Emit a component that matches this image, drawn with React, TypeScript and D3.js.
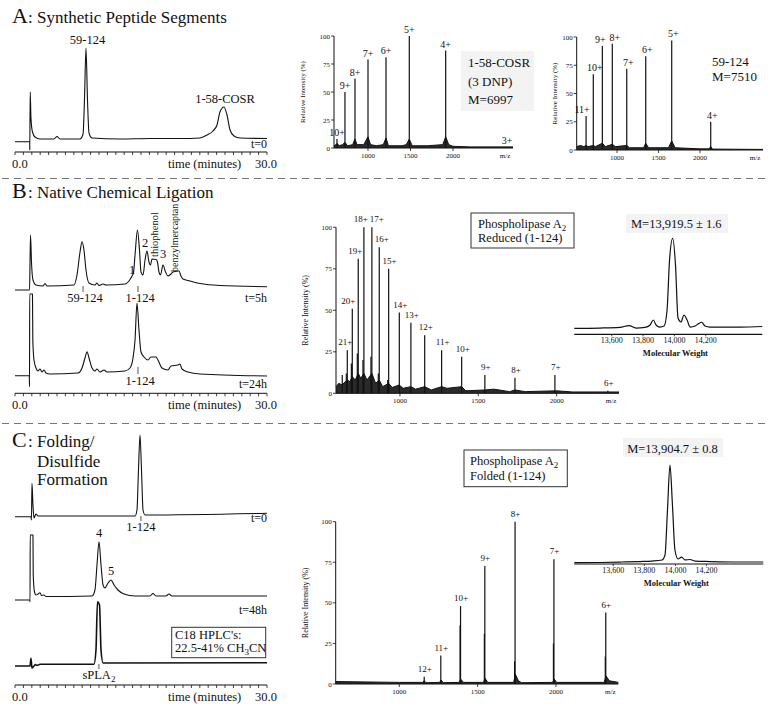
import React from 'react';
import * as d3 from 'd3';

const SERIF = '"Liberation Serif", "Times New Roman", Times, serif';
const INK = '#111';

// ================= HPLC chromatograms (time in minutes, detector signal above baseline) =================
const chromA_t = [0, 1.75, 1.76, 1.81, 1.9, 2.08, 2.38, 2.98, 4.64, 5.0, 5.36, 7.74, 8.1, 8.27, 8.45, 8.63, 8.81, 9.17, 12.5, 16.07, 19.64, 22.0, 22.86, 23.57, 24.05, 24.4, 24.88, 25.24, 25.6, 26.07, 26.79, 30];
const chromA_v = [-1.7, -1.7, -10, 48, 22, 8, 3, 1, 1, 3.5, 1, 1, 6, 40, 92, 40, 7, 2, 1, 1.5, 1.5, 2, 5, 9, 15, 28, 33, 25, 10, 4, 2, 1.5];

const chromB5_t = [0, 1.73, 1.79, 1.85, 1.96, 2.14, 2.5, 3.33, 3.57, 3.81, 7.02, 7.38, 7.74, 7.98, 8.21, 8.45, 8.81, 9.52, 9.76, 10.0, 10.48, 10.83, 13.1, 13.57, 13.93, 14.1, 14.29, 14.58, 14.82, 15.0, 15.24, 15.48, 15.71, 15.95, 16.13, 16.31, 16.79, 16.96, 17.14, 17.32, 17.62, 17.92, 18.21, 18.57, 18.81, 19.52, 19.76, 20.0, 20.83, 22.02, 24.4, 30];
const chromB5_v = [-3.3, -3.3, 25, 51.7, 25, 6.7, 1.7, 0.7, 3.2, 0.7, 1.7, 11.7, 34.7, 45, 36.7, 16.7, 3.7, 1.7, 3.7, 1.2, 2.7, 1.7, 2.7, 5.7, 10.7, 13.7, 31.7, 56.7, 36.7, 14.7, 11.7, 26.7, 35.7, 24.7, 21.7, 27.7, 27.2, 24.7, 14.7, 11.7, 21.7, 14.7, 10.7, 12.7, 14.7, 15.7, 10.7, 7.7, 5.7, 3.2, 1.2, 0];

const chromB24_t = [0, 1.7, 1.73, 1.75, 2.08, 2.12, 2.26, 2.5, 2.74, 2.98, 3.21, 3.45, 3.69, 4.17, 7.5, 7.98, 8.33, 8.57, 8.81, 9.17, 9.52, 9.76, 10.12, 10.6, 10.95, 13.1, 13.69, 14.05, 14.29, 14.52, 14.76, 15.0, 15.36, 15.83, 16.19, 16.79, 17.02, 17.5, 18.21, 18.57, 19.4, 19.64, 19.88, 20.6, 22.02, 30];
const chromB24_v = [0.3, 0.3, -10.7, 82, 82, 36, 16, 8, 5, 7, 4, 6, 3, 2, 3, 8, 18, 24.3, 18, 8, 5, 7, 4, 6, 4, 5, 8, 18, 36, 72.7, 46, 24, 19, 16, 19, 19, 16, 8, 6, 10, 11, 12, 7, 4, 2, 0];

const chromC0_t = [0, 1.9, 1.96, 2.02, 2.14, 2.26, 2.5, 2.74, 14.29, 14.52, 14.7, 14.88, 15.06, 15.24, 15.48, 30];
const chromC0_v = [-0.7, -0.7, -4, 32.7, 11, -2, 2, 0, 0, 6, 46, 81, 46, 6, 1, 2.7];

const chromC48_t = [0, 1.76, 1.79, 1.81, 2.14, 2.17, 2.32, 2.5, 2.74, 2.98, 3.15, 3.45, 3.69, 9.17, 9.52, 9.76, 10.0, 10.24, 10.48, 10.71, 11.07, 11.43, 11.79, 12.26, 12.98, 14.29, 16.07, 16.43, 16.79, 17.98, 18.33, 18.69, 30];
const chromC48_v = [-3.3, -3.3, -5, 61.7, 61.7, 21.7, 4.7, 1.7, 2.7, 4, 1.2, 1.7, 0.2, 0.7, 6.7, 31.7, 55, 31.7, 11.7, 8.7, 13.7, 16.7, 11.7, 6.7, 2.7, 0.7, 0.7, 3.2, 0.7, 0.7, 2.7, 0.7, 0.7];

const chromCs_t = [0, 1.79, 1.9, 2.02, 2.26, 2.44, 2.62, 2.98, 9.4, 9.64, 9.82, 10.06, 10.24, 10.48, 30];
const chromCs_v = [-1.7, -1.7, 6, -3.7, -1.7, -0.2, -1.2, 0, 0, 14.3, 62.6, 59.3, 14.3, 1.3, 1.6];

// ================= ES-MS spectra (m/z, relative intensity %) =================
const msA1Mz = [635, 729, 847, 1000, 1212, 1486, 1914, 2635];
const msA1Int = [8, 50, 62, 79, 81, 100, 87, 1];
const msA1Labels = ['10+', '9+', '8+', '7+', '6+', '5+', '4+', '3+'];
const msA1NoiseMz = [600, 620, 640, 660, 700, 729, 760, 820, 847, 870, 950, 1000, 1030, 1100, 1180, 1212, 1240, 1400, 1450, 1486, 1520, 1700, 1880, 1914, 1950, 2000, 2200, 2706];
const msA1NoiseInt = [2, 3, 4, 2, 3, 5, 2, 3, 8, 3, 3, 10, 3, 2, 3, 9, 2, 2, 3, 8, 2, 2, 3, 10, 3, 1.5, 1, 1];

const msA2Mz = [627, 714, 823, 943, 1117, 1346, 1659, 2129];
const msA2Int = [30, 67, 92, 94, 72, 83, 97, 25];
const msA2Labels = ['11+', '10+', '9+', '8+', '7+', '6+', '5+', '4+'];
const msA2NoiseMz = [514, 560, 600, 627, 650, 714, 740, 823, 860, 943, 980, 1117, 1150, 1320, 1346, 1380, 1620, 1659, 1700, 2000, 2110, 2129, 2150, 2759];
const msA2NoiseInt = [3, 4, 3, 4, 3, 4, 3, 6, 3, 5, 3, 4, 2, 2, 6, 2, 2, 8, 2, 1, 1, 3, 0.8, 0.5];

const msBMz = [632, 664, 696, 734, 770, 821, 868, 928, 996, 1070, 1158, 1266, 1394, 1542, 1734, 1989, 2327];
const msBInt = [11, 26, 51, 81, 100, 100, 88, 75, 48.6, 42.5, 35, 26, 22, 11, 9.4, 11, 1.5];
const msBLabels = ['', '21+', '20+', '19+', '18+', '17+', '16+', '15+', '14+', '13+', '12+', '11+', '10+', '9+', '8+', '7+', '6+'];
const msBSubMz = [658, 690, 728, 764, 815, 862, 922];
const msBSubInt = [12, 18, 24, 20, 22, 12, 8];
const msBNoiseMz = [592, 610, 632, 650, 664, 680, 696, 715, 734, 750, 770, 790, 821, 845, 868, 890, 928, 950, 996, 1020, 1070, 1100, 1158, 1200, 1266, 1300, 1394, 1420, 1542, 1600, 1700, 1734, 1800, 2000, 2100, 2398];
const msBNoiseInt = [4, 6, 5, 7, 8, 7, 10, 8, 12, 9, 12, 8, 12, 6, 8, 4, 6, 3.5, 5, 3, 4, 2.5, 4, 2, 4, 3, 4, 1.5, 2, 2.5, 1, 2, 1, 1.5, 0.8, 0.8];

const msCMz = [1159, 1265, 1391, 1546, 1739, 1987, 2318];
const msCInt = [4.5, 17.5, 48, 72.7, 100, 76.8, 44];
const msCLabels = ['12+', '11+', '10+', '9+', '8+', '7+', '6+'];
const msCSubMz = [1388, 1543, 1736, 1984, 2315];
const msCSubInt = [36, 31, 14, 25, 17];
const msCNoiseMz = [594, 1000, 1150, 1159, 1170, 1258, 1266, 1280, 1383, 1392, 1410, 1538, 1547, 1565, 1730, 1741, 1760, 1780, 1978, 1989, 2005, 2308, 2320, 2340, 2398];
const msCNoiseInt = [1.5, 1, 1, 2, 0.8, 1, 2.5, 0.8, 1, 3, 1, 1, 3.5, 1, 1, 6, 2, 0.8, 1, 3, 1, 1, 5, 2, 1];

// ================= Deconvoluted mass spectra (molecular weight, relative intensity %) =================
const invBMw = [13361, 13525, 13653, 13710, 13755, 13812, 13845, 13865, 13883, 13908, 13934, 13953, 13969, 13989, 14007, 14023, 14042, 14061, 14081, 14100, 14132, 14151, 14174, 14195, 14227, 14419, 14561];
const invBInt = [0, 0.3, 1, 3, 0.3, 1, 3.7, 9.2, 3.7, 1.4, 2.6, 20, 76, 100, 70, 11.4, 7, 14.8, 9.2, 1.4, 2.6, 4.8, 6.7, 2.6, 1.4, 1.4, 2];
const invCMw = [13349, 13514, 13656, 13772, 13849, 13914, 13933, 13949, 13965, 13981, 13997, 14017, 14040, 14062, 14094, 14126, 14222, 14415, 14566];
const invCInt = [0, 0.2, 0.7, 1.2, 1.7, 2.8, 7.9, 54, 100, 59, 13, 3.8, 5.8, 2.8, 3.3, 1.7, 1.2, 0.7, 0.7];

// ================= Tick labels =================
const intensityTicks = [0, 25, 50, 75, 100];
const mzTicks = [1000, 1500, 2000];
const mwTicks = [13600, 13800, 14000, 14200];
const mwTickLabels = ['13,600', '13,800', '14,000', '14,200'];

// ================= Components =================
const tScale = d3.scaleLinear().domain([0, 30]).range([15, 267]);

function Chrom({ t, v, base, width = 1.1 }: { t: number[]; v: number[]; base: number; width?: number }) {
  const y = d3.scaleLinear().domain([0, 100]).range([base, base - 100]);
  const line = d3.line<number>().x((_, i) => tScale(t[i])).y(d => y(d)).curve(d3.curveMonotoneX);
  return <path d={line(v) || ''} fill="none" stroke={INK} strokeWidth={width} strokeLinejoin="round" />;
}

function TimeAxis({ y }: { y: number }) {
  return (
    <g>
      <line x1={tScale(0)} x2={tScale(30)} y1={y} y2={y} stroke={INK} strokeWidth={1} />
      {tScale.ticks(30).map(t => (
        <line key={t} x1={tScale(t)} x2={tScale(t)} y1={y} y2={y + 3} stroke={INK} strokeWidth={0.8} />
      ))}
      <text x={12} y={y + 15.5} fontSize={12.5}>0.0</text>
      <text x={168} y={y + 15.5} fontSize={12.5}>time (minutes)</text>
      <text x={255} y={y + 15.5} fontSize={12.5}>30.0</text>
    </g>
  );
}

function Marker({ t, y1, y2 }: { t: number; y1: number; y2: number }) {
  return <line x1={tScale(t)} x2={tScale(t)} y1={y1} y2={y2} stroke="#555" strokeWidth={1} />;
}

type SpecProps = {
  x0: number; x1: number; y0: number; y100: number; domain: [number, number];
  mz: number[]; inten: number[]; labels: string[];
  noiseMz: number[]; noiseInt: number[];
  subMz?: number[]; subInt?: number[];
  yLabelX: number; yLabelSize: number; peakFont: number; labelGap: number;
  nudge?: Record<string, number>; defaultNudge?: number;
};

function Spectrum(p: SpecProps) {
  const x = d3.scaleLinear().domain(p.domain).range([p.x0, p.x1]);
  const y = d3.scaleLinear().domain([0, 100]).range([p.y0, p.y100]);
  const area = d3.area<number>().x((_, i) => x(p.noiseMz[i])).y0(p.y0).y1(d => y(d));
  const line = d3.line<number>().x((_, i) => x(p.noiseMz[i])).y(d => y(d));
  const nd = p.defaultNudge ?? 0;
  return (
    <g>
      <path d={area(p.noiseInt) || ''} fill="#2a2a2a" />
      <path d={line(p.noiseInt) || ''} fill="none" stroke={INK} strokeWidth={1} />
      {p.subMz && p.subMz.map((m, i) => (
        <line key={'s' + i} x1={x(m)} x2={x(m)} y1={p.y0} y2={y(p.subInt![i])} stroke={INK} strokeWidth={1.2} />
      ))}
      {p.mz.map((m, i) => (
        <line key={'p' + i} x1={x(m)} x2={x(m)} y1={p.y0} y2={y(p.inten[i])} stroke={INK} strokeWidth={1.2} />
      ))}
      {p.labels.map((l, i) => l ? (
        <text key={'l' + i} x={x(p.mz[i]) + (p.nudge && p.nudge[l] !== undefined ? p.nudge[l] : nd)}
          y={y(p.inten[i]) - p.labelGap} fontSize={p.peakFont} textAnchor="middle">{l}</text>
      ) : null)}
      <line x1={p.x0} x2={p.x1} y1={p.y0} y2={p.y0} stroke={INK} strokeWidth={1} />
      <line x1={p.x0} x2={p.x0} y1={p.y0} y2={p.y100} stroke={INK} strokeWidth={1} />
      {intensityTicks.map(v => (
        <g key={'yt' + v}>
          <line x1={p.x0 - 3} x2={p.x0} y1={y(v)} y2={y(v)} stroke={INK} strokeWidth={0.8} />
          <text x={p.x0 - 4} y={y(v) + 2.5} fontSize={7} textAnchor="end">{v}</text>
        </g>
      ))}
      {mzTicks.map(v => (
        <g key={'xt' + v}>
          <line x1={x(v)} x2={x(v)} y1={p.y0} y2={p.y0 + 3} stroke={INK} strokeWidth={0.8} />
          <text x={x(v)} y={p.y0 + 10} fontSize={7} textAnchor="middle">{v}</text>
        </g>
      ))}
      <text x={p.x1 - 8} y={p.y0 + 10} fontSize={7} textAnchor="middle">m/z</text>
      <text transform={`translate(${p.yLabelX},${(p.y0 + p.y100) / 2}) rotate(-90)`} fontSize={p.yLabelSize} textAnchor="middle">
        Relative Intensity (%)
      </text>
    </g>
  );
}

type InsetProps = {
  x0: number; x1: number; axisY: number; baseY: number; topY: number; domain: [number, number];
  mw: number[]; inten: number[];
};

function Inset(p: InsetProps) {
  const x = d3.scaleLinear().domain(p.domain).range([p.x0, p.x1]);
  const y = d3.scaleLinear().domain([0, 100]).range([p.baseY, p.topY]);
  const line = d3.line<number>().x((_, i) => x(p.mw[i])).y(d => y(d)).curve(d3.curveMonotoneX);
  return (
    <g>
      <path d={line(p.inten) || ''} fill="none" stroke={INK} strokeWidth={1.2} />
      <line x1={p.x0} x2={p.x1} y1={p.axisY} y2={p.axisY} stroke={INK} strokeWidth={1.2} />
      {mwTicks.map((v, i) => (
        <g key={v}>
          <line x1={x(v)} x2={x(v)} y1={p.axisY} y2={p.axisY + 2} stroke={INK} strokeWidth={0.8} />
          <text x={x(v)} y={p.axisY + 9} fontSize={8} textAnchor="middle">{mwTickLabels[i]}</text>
        </g>
      ))}
      <text x={x(14000) + 1} y={p.axisY + 22} fontSize={8.5} textAnchor="middle" fontWeight={600}>Molecular Weight</text>
    </g>
  );
}

export default function App() {
  return (
    <svg width={775} height={711} viewBox="0 0 775 711"
      style={{ position: 'absolute', left: 0, top: 0, display: 'block', background: '#fff' }}
      fontFamily={SERIF} fill={INK}>
      <rect x={0} y={0} width={775} height={711} fill="#fff" />

      {/* separators */}
      <line x1={2} x2={765} y1={178.5} y2={178.5} stroke="#777" strokeWidth={1} strokeDasharray="7 5" />
      <line x1={2} x2={765} y1={423.5} y2={423.5} stroke="#777" strokeWidth={1} strokeDasharray="7 5" />

      {/* ================= Panel A ================= */}
      <text x={12} y={23} fontSize={22}>A</text>
      <text x={28} y={23} fontSize={17}>: Synthetic Peptide Segments</text>

      <Chrom t={chromA_t} v={chromA_v} base={140} />
      <TimeAxis y={152} />
      <text x={tScale(8.63)} y={44} fontSize={12.5} textAnchor="middle">59-124</text>
      <text x={tScale(25.0)} y={103} fontSize={12.5} textAnchor="middle">1-58-COSR</text>
      <text x={267} y={148} fontSize={12} textAnchor="end">t=0</text>

      <rect x={461} y={51} width={73} height={60} fill="#f3f3f3" />
      <Spectrum x0={334} x1={513} y0={148} y100={36} domain={[600, 2706]}
        mz={msA1Mz} inten={msA1Int} labels={msA1Labels}
        noiseMz={msA1NoiseMz} noiseInt={msA1NoiseInt}
        yLabelX={305} yLabelSize={7} peakFont={10} labelGap={3} />
      <text x={468} y={67} fontSize={13}>1-58-COSR</text>
      <text x={468} y={86} fontSize={13}>(3 DNP)</text>
      <text x={468} y={104} fontSize={13}>M=6997</text>

      <Spectrum x0={576.7} x1={763} y0={150} y100={37} domain={[514, 2759]}
        mz={msA2Mz} inten={msA2Int} labels={msA2Labels}
        noiseMz={msA2NoiseMz} noiseInt={msA2NoiseInt}
        yLabelX={557} yLabelSize={7} peakFont={10} labelGap={3}
        nudge={{ '11+': -4, '9+': -2, '8+': 2.5 }} defaultNudge={1.5} />
      <text x={712} y={66} fontSize={13}>59-124</text>
      <text x={712} y={81} fontSize={13}>M=7510</text>

      {/* ================= Panel B ================= */}
      <text x={12} y={198} fontSize={22}>B</text>
      <text x={28} y={198} fontSize={17}>: Native Chemical Ligation</text>

      <Chrom t={chromB5_t} v={chromB5_v} base={286.7} />
      <Marker t={8.1} y1={286} y2={292} />
      <Marker t={14.64} y1={286} y2={292} />
      <text x={tScale(8.33)} y={302} fontSize={12.5} textAnchor="middle">59-124</text>
      <text x={tScale(14.9)} y={302} fontSize={12.5} textAnchor="middle">1-124</text>
      <text x={tScale(13.93)} y={274} fontSize={12.5} textAnchor="middle">1</text>
      <text x={tScale(15.48)} y={246.7} fontSize={12.5} textAnchor="middle">2</text>
      <text x={tScale(17.62)} y={258} fontSize={12.5} textAnchor="middle">3</text>
      <text transform={`translate(${158},${257}) rotate(-90)`} fontSize={10.5}>thiophenol</text>
      <text transform={`translate(${178},${272}) rotate(-90)`} fontSize={10}>benzylmercaptan</text>
      <text x={267} y={301.7} fontSize={12} textAnchor="end">t=5h</text>

      <Chrom t={chromB24_t} v={chromB24_v} base={376} />
      <Marker t={14.64} y1={367} y2={374} />
      <text x={tScale(14.9)} y={385} fontSize={12.5} textAnchor="middle">1-124</text>
      <text x={267} y={387.5} fontSize={12} textAnchor="end">t=24h</text>
      <TimeAxis y={393.3} />

      <Spectrum x0={336} x1={619} y0={393.3} y100={227.3} domain={[592, 2398]}
        mz={msBMz} inten={msBInt} labels={msBLabels}
        noiseMz={msBNoiseMz} noiseInt={msBNoiseInt}
        subMz={msBSubMz} subInt={msBSubInt}
        yLabelX={308} yLabelSize={8} peakFont={9} labelGap={5}
        nudge={{ '21+': -2, '20+': -4, '19+': -3, '18+': -3, '17+': 5, '16+': 2.5 }} defaultNudge={1} />
      <rect x={471} y={213} width={103} height={35} fill="#fff" stroke="#333" strokeWidth={1} />
      <text x={478} y={227.5} fontSize={12.5}>Phospholipase A<tspan dy={3} fontSize={9}>2</tspan></text>
      <text x={478} y={242} fontSize={12.5}>Reduced (1-124)</text>

      <rect x={626} y={214} width={102} height={19} fill="#f3f3f3" />
      <text x={676.3} y={228.3} fontSize={12.5} textAnchor="middle">M=13,919.5 ± 1.6</text>
      <Inset x0={574.3} x1={762.3} axisY={334.3} baseY={328.3} topY={238.3} domain={[13361, 14561]}
        mw={invBMw} inten={invBInt} />

      {/* ================= Panel C ================= */}
      <text x={12} y={446.7} fontSize={22}>C</text>
      <text x={28} y={446.7} fontSize={17}>: Folding/</text>
      <text x={37} y={467} fontSize={17}>Disulfide</text>
      <text x={37} y={485} fontSize={17}>Formation</text>

      <Chrom t={chromC0_t} v={chromC0_v} base={516} />
      <Marker t={14.99} y1={516} y2={521} />
      <text x={tScale(14.99)} y={531} fontSize={12.5} textAnchor="middle">1-124</text>
      <text x={267} y={521.7} fontSize={12} textAnchor="end">t=0</text>

      <Chrom t={chromC48_t} v={chromC48_v} base={596.7} />
      <text x={tScale(10.0)} y={537.3} fontSize={12.5} textAnchor="middle">4</text>
      <text x={tScale(11.43)} y={575} fontSize={12.5} textAnchor="middle">5</text>
      <text x={267} y={614} fontSize={12} textAnchor="end">t=48h</text>

      <Chrom t={chromCs_t} v={chromCs_v} base={664.3} width={1.6} />
      <Marker t={9.99} y1={664} y2={669} />
      <text x={tScale(9.99)} y={679} fontSize={12.5} textAnchor="middle">sPLA<tspan dy={3} fontSize={9}>2</tspan></text>

      <rect x={171.7} y={627.3} width={94} height={30.4} fill="#fff" stroke="#333" strokeWidth={1} />
      <text x={175} y={638.8} fontSize={12.5}>C18 HPLC's:</text>
      <text x={175} y={652} fontSize={12.5}>22.5-41% CH<tspan dy={3} fontSize={9}>3</tspan><tspan dy={-3}>CN</tspan></text>
      <TimeAxis y={685} />

      <Spectrum x0={335.7} x1={618.3} y0={684} y100={521.7} domain={[594, 2398]}
        mz={msCMz} inten={msCInt} labels={msCLabels}
        noiseMz={msCNoiseMz} noiseInt={msCNoiseInt}
        subMz={msCSubMz} subInt={msCSubInt}
        yLabelX={308} yLabelSize={8} peakFont={9} labelGap={5} defaultNudge={0.5} />
      <rect x={464} y={450} width={103.3} height={36.7} fill="#fff" stroke="#333" strokeWidth={1} />
      <text x={470} y={464.5} fontSize={12.5}>Phospholipase A<tspan dy={3} fontSize={9}>2</tspan></text>
      <text x={470} y={479.5} fontSize={12.5}>Folded (1-124)</text>

      <rect x={623} y={438} width={100} height={19} fill="#f3f3f3" />
      <text x={672.5} y={452.7} fontSize={12.5} textAnchor="middle">M=13,904.7 ± 0.8</text>
      <Inset x0={574.3} x1={763.3} axisY={564} baseY={562.7} topY={465} domain={[13349, 14566]}
        mw={invCMw} inten={invCInt} />
    </svg>
  );
}
